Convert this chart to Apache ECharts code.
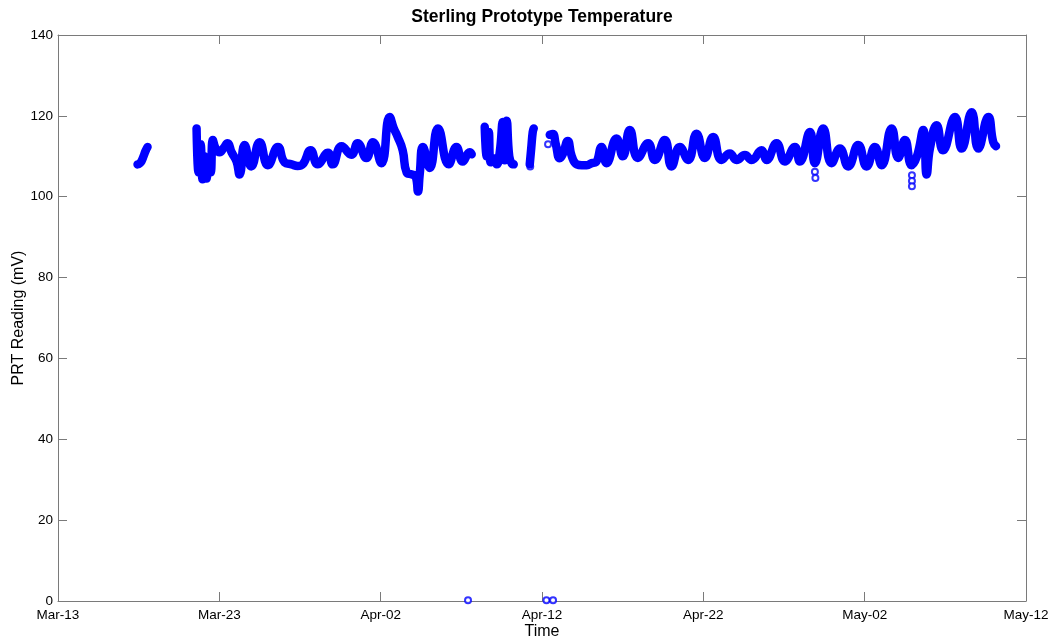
<!DOCTYPE html>
<html>
<head>
<meta charset="utf-8">
<script src="https://cdn.jsdelivr.net/npm/echarts@6/dist/echarts.min.js"></script>
<style>
html,body{margin:0;padding:0;background:#fff;}
#chart{width:1055px;height:642px;}
</style>
</head>
<body>
<div id="chart"></div>
<script>
// Time in days since Mar-13, value in mV (band centre)
const xTickLabels = ['Mar-13','Mar-23','Apr-02','Apr-12','Apr-22','May-02','May-12'];
const yTicks = [0, 20, 40, 60, 80, 100, 120, 140];

const segmentA = [
  [4.930,108.0],[5.054,108.2],[5.178,108.8],[5.302,110.0],[5.426,111.3],[5.550,112.3]
];
const segmentB = [
  [8.589,116.9],[8.713,106.0],[8.837,113.0],[8.961,104.3],[9.085,110.0],[9.209,104.5],
  [9.333,108.0],[9.457,106.0],[9.600,114.0],[9.767,112.0],[10.016,111.0],
  [10.264,112.0],[10.512,113.2],[10.760,111.0],[11.070,108.7],[11.256,105.5],[11.566,112.8],
  [11.981,107.5],[12.496,113.5],[13.011,107.8],[13.631,112.3],[14.047,108.5],[14.481,108.0],
  [14.853,107.6],[15.163,108.0],[15.659,111.5],[16.093,108.0],[16.732,110.9],[17.023,108.0],
  [17.581,112.5],[18.183,110.4],[18.574,113.2],[19.113,109.6],[19.522,113.5],[20.043,108.3],
  [20.558,119.7],[20.806,117.0],[21.054,114.8],[21.364,111.5],[21.612,106.0],[21.922,105.5],
  [22.171,105.0],[22.313,101.3],[22.419,105.5],[22.623,112.3],[23.039,107.1],[23.553,116.9],
  [24.217,108.0],[24.694,112.3],[25.085,108.7],[25.519,111.0],[25.643,110.5]
];
const segmentC = [
  [26.450,117.3],[26.574,110.0],[26.698,116.0],[26.822,108.5],[27.008,109.5],[27.194,108.0],
  [27.380,111.0],[27.566,118.5],[27.690,109.0],[27.814,118.8],[27.969,110.0],[28.124,108.2],
  [28.248,108.0]
];
const segmentD = [
  [29.240,108.0],[29.333,112.0],[29.426,116.0],[29.488,116.9]
];
const segmentE = [
  [30.481,115.3],[30.667,115.5],[30.853,113.0],[31.101,109.5],[31.287,110.5],[31.597,113.8],
  [31.845,110.0],[32.155,108.0],[32.465,107.8],[32.775,107.8],[33.085,108.3],[33.333,108.5],
  [33.687,112.3],[33.997,108.3],[34.617,114.4],[35.008,110.0],[35.442,116.5],[35.938,109.6],
  [36.577,113.2],[36.992,109.1],[37.612,114.0],[38.028,107.5],[38.543,112.3],[39.057,109.1],
  [39.578,115.6],[40.093,109.6],[40.608,114.8],[41.129,109.1],[41.643,110.7],[42.059,109.1],
  [42.574,110.3],[42.989,109.1],[43.609,111.5],[43.919,109.1],[44.539,113.2],[45.054,108.7],
  [45.674,112.3],[45.984,108.7],[46.605,116.0],[46.915,108.3],[47.429,116.9],[47.950,108.3],
  [48.465,111.9],[48.980,107.5],[49.600,112.8],[50.121,107.5],[50.636,112.3],[51.051,107.8],
  [51.671,116.9],[52.081,109.6],[52.496,114.0],[52.912,107.8],[53.240,110.0],[53.631,116.5],
  [53.842,105.5],[54.047,112.0],[54.462,117.7],[54.853,111.5],[55.597,119.7],[56.012,111.9],
  [56.632,120.9],[57.041,111.9],[57.662,119.7],[57.970,113.5],[58.140,112.5]
];
const isolatedPoints = [
  [25.414,0.2],[30.276,0.2],[30.685,0.2],[26.574,111.0],[30.375,113.0],[29.271,107.5],
  [46.915,106.2],[46.946,104.6],[52.930,105.3],[52.930,103.9],[52.930,102.6]
];

const BLUE = '#0000ff';
const FRAME = '#7a7a7a';
const FONT = '"Liberation Sans", Arial, sans-serif';

function bandSeries(data) {
  return {
    type: 'line', data: data, xAxisIndex: 0, yAxisIndex: 0,
    showSymbol: false, smooth: 0.5, silent: true,
    lineStyle: { color: BLUE, width: 8.5, cap: 'round', join: 'round' }
  };
}

const chart = echarts.init(document.getElementById('chart'), null, { renderer: 'canvas' });
const xBase = {
  type: 'value', min: 0, max: 60, interval: 10,
  axisLine: { show: true, onZero: false, lineStyle: { color: FRAME, width: 1 } },
  axisTick: { show: true, inside: true, length: 9, lineStyle: { color: FRAME } },
  splitLine: { show: false }
};
const yBase = {
  type: 'value', min: 0, max: 140, interval: 20,
  axisLine: { show: true, onZero: false, lineStyle: { color: FRAME, width: 1 } },
  axisTick: { show: true, inside: true, length: 9, lineStyle: { color: FRAME } },
  splitLine: { show: false }
};
chart.setOption({
  animation: false,
  backgroundColor: '#ffffff',
  textStyle: { fontFamily: FONT },
  grid: { left: 58, right: 29, top: 35, bottom: 41, containLabel: false, outerBoundsMode: 'none' },
  graphic: [{
    type: 'text', x: 542, y: 17,
    style: { text: 'Sterling Prototype Temperature', align: 'center', verticalAlign: 'middle',
             font: 'bold 17.5px ' + FONT, fill: '#000' }
  }],
  xAxis: [
    Object.assign({}, xBase, {
      position: 'bottom',
      axisLabel: { color: '#000', fontSize: 13.5, margin: 7,
        formatter: function (v) { return xTickLabels[Math.round(v / 10)]; } },
      name: 'Time', nameLocation: 'middle', nameGap: 23, nameMoveOverlap: false,
      nameTextStyle: { color: '#000', fontSize: 16 }
    }),
    Object.assign({}, xBase, { position: 'top', axisLabel: { show: false } })
  ],
  yAxis: [
    Object.assign({}, yBase, {
      position: 'left',
      axisLabel: { color: '#000', fontSize: 13.5, margin: 5,
        formatter: function (v) { return yTicks.indexOf(v) >= 0 ? String(v) : ''; } },
      name: 'PRT Reading (mV)', nameLocation: 'middle', nameGap: 31, nameMoveOverlap: false,
      nameTextStyle: { color: '#000', fontSize: 16 }
    }),
    Object.assign({}, yBase, { position: 'right', axisLabel: { show: false } })
  ],
  series: [
    bandSeries(segmentA), bandSeries(segmentB), bandSeries(segmentC),
    bandSeries(segmentD), bandSeries(segmentE),
    {
      type: 'scatter', data: isolatedPoints, xAxisIndex: 0, yAxisIndex: 0,
      symbol: 'emptyCircle', symbolSize: 6, silent: true,
      itemStyle: { color: BLUE, borderColor: BLUE, borderWidth: 1.5 }
    }
  ]
});
</script>
</body>
</html>
